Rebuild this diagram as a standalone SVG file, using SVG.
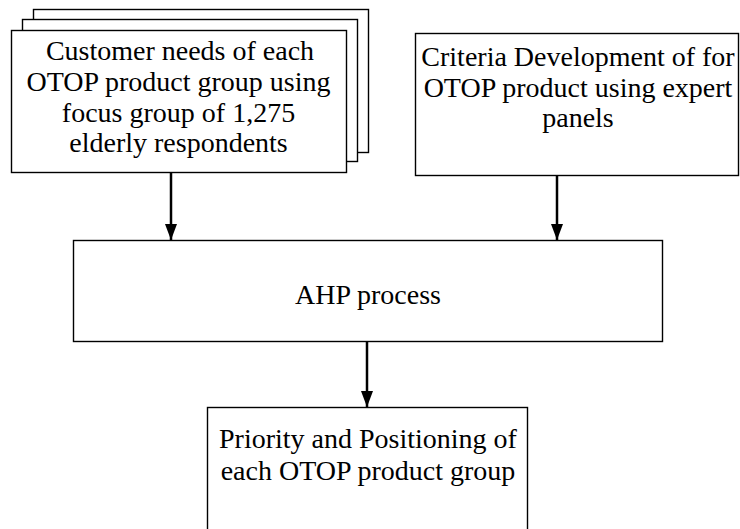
<svg xmlns="http://www.w3.org/2000/svg" width="740" height="529" viewBox="0 0 740 529">
<defs>
<marker id="ah" markerWidth="16" markerHeight="12" refX="16" refY="6" orient="auto" markerUnits="userSpaceOnUse">
<path d="M0,0 L16,6 L0,12 Z" fill="#000"/>
</marker>
<style>
.box{fill:#fff;stroke:#000;stroke-width:1.4}
.t{font-family:"Liberation Serif","Times New Roman",serif;font-size:28px;fill:#000;text-anchor:middle}
.c{stroke:#000;stroke-width:2.5;fill:none}
</style>
</defs>
<rect width="740" height="529" fill="#fff"/>
<g id="customer-needs">
<rect class="box" x="33.5" y="9.5" width="335" height="143"/>
<rect class="box" x="22.5" y="19.5" width="335" height="142"/>
<rect class="box" x="11.5" y="30.5" width="335" height="142"/>
<text class="t" x="180" y="60">Customer needs of each</text>
<text class="t" x="178.5" y="91">OTOP product group using</text>
<text class="t" x="178.5" y="121.5">focus group of 1,275</text>
<text class="t" x="178.5" y="152">elderly respondents</text>
</g>
<g id="criteria">
<rect class="box" x="415.5" y="33.5" width="323" height="142"/>
<text class="t" x="578" y="66">Criteria Development of for</text>
<text class="t" x="578" y="97">OTOP product using expert</text>
<text class="t" x="578" y="127">panels</text>
</g>
<g id="ahp">
<rect class="box" x="73.5" y="240.5" width="589" height="101"/>
<text class="t" x="368" y="304">AHP process</text>
</g>
<g id="priority">
<rect class="box" x="207.5" y="407.5" width="320" height="130"/>
<text class="t" x="368" y="448">Priority and Positioning of</text>
<text class="t" x="368" y="480">each OTOP product group</text>
</g>
<g id="connectors">
<line class="c" x1="171" y1="173" x2="171" y2="240" marker-end="url(#ah)"/>
<line class="c" x1="557" y1="176" x2="557" y2="240" marker-end="url(#ah)"/>
<line class="c" x1="367" y1="341" x2="367" y2="407" marker-end="url(#ah)"/>
</g>
</svg>
